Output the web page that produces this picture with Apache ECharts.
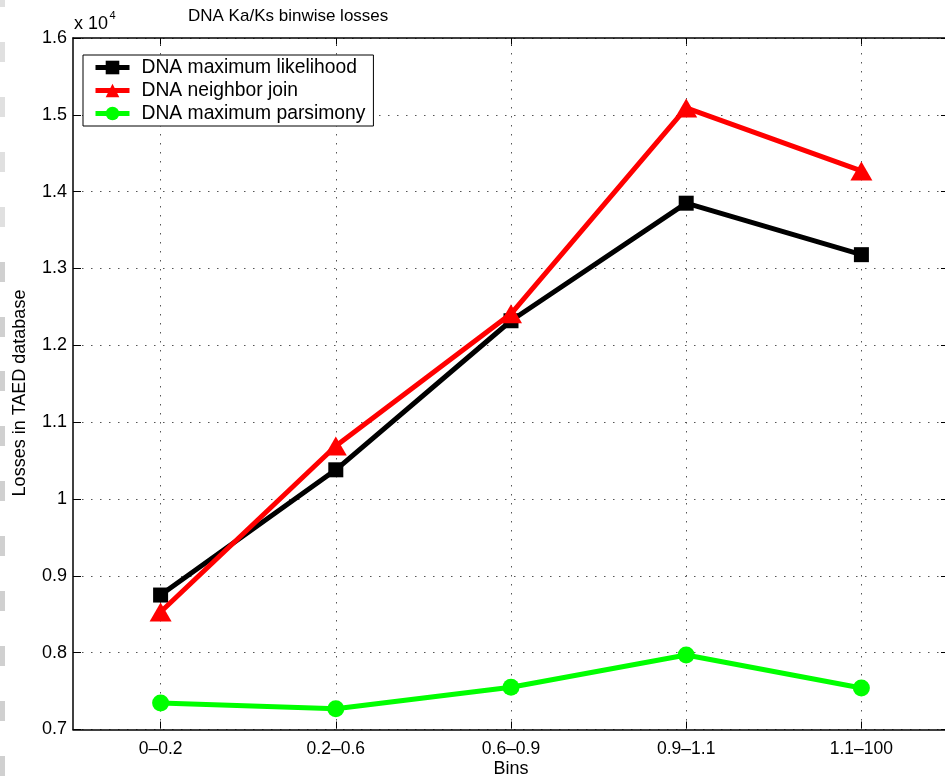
<!DOCTYPE html>
<html>
<head>
<meta charset="utf-8">
<script src="https://cdn.jsdelivr.net/npm/echarts@6/dist/echarts.min.js"></script>
<style>
  html, body { margin: 0; padding: 0; background: #fff; }
  #chart { width: 945px; height: 782px; }
</style>
</head>
<body>
<div id="chart"></div>
<script>
// Bins of Ka/Ks ratio
const bins = ['0\u20130.2', '0.2\u20130.6', '0.6\u20130.9', '0.9\u20131.1', '1.1\u2013100'];

// Losses per bin for each reconstruction method
const maxLikelihood = [8750, 10380, 12320, 13850, 13180];
const neighborJoin = [8530, 10690, 12410, 15090, 14270];
const maxParsimony = [7345, 7270, 7550, 7970, 7540];

const seriesNames = ['DNA maximum likelihood', 'DNA neighbor join', 'DNA maximum parsimony'];

// Y axis range in raw units; labels are shown scaled by 10^4
const yMin = 7000, yMax = 16000, yStep = 1000;

const FONT = 'Liberation Sans, Arial, Helvetica, sans-serif';
const gridDot = { color: '#555', width: 1, type: [1.5, 7.5] };

const chart = echarts.init(document.getElementById('chart'), null, { renderer: 'canvas' });

// Light scan marks along the left page edge
const edgeMarks = [];
for (let k = -1; k <= 13; k++) {
  edgeMarks.push({
    type: 'rect', left: 0, top: Math.round(42 + 54.9 * k),
    shape: { width: 5, height: 20 },
    style: { fill: k < 4 ? '#e0e0e0' : '#d0d0d0' }, silent: true
  });
}

const option = {
  backgroundColor: '#fff',
  animation: false,
  textStyle: { fontFamily: FONT },
  title: {
    text: 'DNA Ka/Ks binwise losses',
    left: 183, top: 3,
    textStyle: { fontFamily: FONT, fontSize: 17, fontWeight: 'normal', color: '#000' }
  },
  graphic: edgeMarks.concat([
    // axis exponent "x 10^4"
    { type: 'text', x: 74, y: 24, style: { text: 'x 10', font: '18px ' + FONT, fill: '#000', verticalAlign: 'middle' } },
    { type: 'text', x: 109.5, y: 16, style: { text: '4', font: '11px ' + FONT, fill: '#000', verticalAlign: 'middle' } },
    // y axis title
    {
      type: 'text', x: 20.5, y: 393, rotation: Math.PI / 2,
      style: { text: 'Losses in TAED database', font: '18px ' + FONT, fill: '#000', align: 'center', verticalAlign: 'middle' }
    },
    // x axis title
    {
      type: 'text', x: 511, y: 769,
      style: { text: 'Bins', font: '18px ' + FONT, fill: '#000', align: 'center', verticalAlign: 'middle' }
    }
  ]),
  legend: {
    orient: 'vertical',
    left: 83, top: 55,
    data: seriesNames,
    backgroundColor: '#fff',
    borderColor: '#000', borderWidth: 1,
    borderRadius: 0,
    padding: [3, 8, 3, 10],
    itemWidth: 34, itemHeight: 17, itemGap: 4,
    lineStyle: { width: 5 },
    textStyle: { fontFamily: FONT, fontSize: 19.3, color: '#000', padding: [0, 0, 0, 7] }
  },
  grid: { left: 73, top: 38, width: 876, height: 691.5, outerBoundsMode: 'none', containLabel: false },
  xAxis: [
    {
      type: 'category', data: bins, boundaryGap: true, position: 'bottom',
      axisLine: { lineStyle: { color: '#000', width: 1.5 } },
      axisTick: { show: true, inside: true, alignWithLabel: true, length: 8, lineStyle: { color: '#000', width: 1 } },
      axisLabel: { fontFamily: FONT, fontSize: 17.5, color: '#000', margin: 11 },
      splitLine: { show: false }
    },
    {
      type: 'category', data: bins, boundaryGap: true, position: 'top',
      axisLine: { lineStyle: { color: '#000', width: 1.5 } },
      axisTick: { show: true, inside: true, alignWithLabel: true, length: 8, lineStyle: { color: '#000', width: 1 } },
      axisLabel: { show: false },
      splitLine: { show: false }
    }
  ],
  yAxis: [
    {
      type: 'value', min: yMin, max: yMax, interval: yStep, position: 'left',
      axisLine: { show: true, lineStyle: { color: '#000', width: 1.5 } },
      axisTick: { show: true, inside: true, length: 8, lineStyle: { color: '#000', width: 1 } },
      axisLabel: {
        fontFamily: FONT, fontSize: 18, color: '#000', margin: 6,
        formatter: v => String(parseFloat((v / 10000).toFixed(1)))
      },
      splitLine: { show: true, lineStyle: gridDot }
    },
    {
      type: 'value', min: yMin, max: yMax, interval: yStep, position: 'right',
      axisLine: { show: true, lineStyle: { color: '#000', width: 1.5 } },
      axisTick: { show: true, inside: true, length: 8, lineStyle: { color: '#000', width: 1 } },
      axisLabel: { show: false },
      splitLine: { show: false }
    }
  ],
  series: [
    {
      name: seriesNames[0], type: 'line', data: maxLikelihood, z: 4,
      symbol: 'rect', symbolSize: 15, showAllSymbol: true,
      itemStyle: { color: '#000' },
      lineStyle: { color: '#000', width: 5 },
      // vertical dotted grid lines at each bin
      markLine: {
        silent: true, symbol: ['none', 'none'], label: { show: false },
        lineStyle: gridDot, z: 1,
        data: bins.map(b => ({ xAxis: b }))
      }
    },
    {
      name: seriesNames[1], type: 'line', data: neighborJoin, z: 5,
      symbol: 'triangle', symbolSize: [22, 19], showAllSymbol: true,
      itemStyle: { color: '#ff0000' },
      lineStyle: { color: '#ff0000', width: 5 }
    },
    {
      name: seriesNames[2], type: 'line', data: maxParsimony, z: 3,
      symbol: 'circle', symbolSize: 17, showAllSymbol: true,
      itemStyle: { color: '#00ff00' },
      lineStyle: { color: '#00ff00', width: 5 }
    }
  ]
};

chart.setOption(option);
</script>
</body>
</html>
